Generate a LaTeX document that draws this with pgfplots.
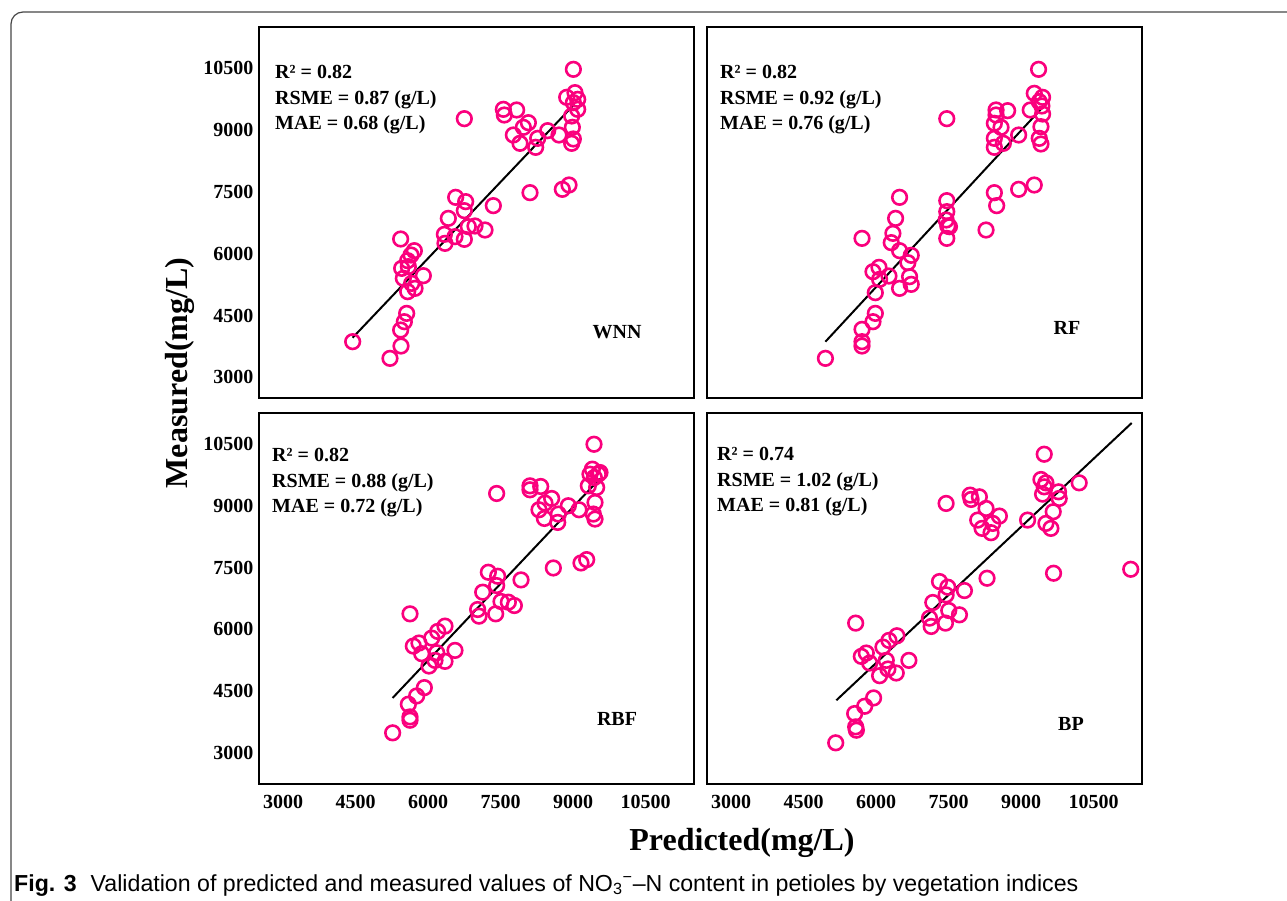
\documentclass[border=0pt]{standalone}
\usepackage{fontspec}
\usepackage{pgfplots}
\pgfplotsset{compat=1.18}
\setmainfont{Liberation Serif}
\newfontfamily\capfont{Liberation Sans}
\definecolor{pk}{RGB}{250,0,125}
\definecolor{framec}{RGB}{70,70,70}
\pgfplotsset{
  panel/.style={
    scale only axis, width=435pt, height=371pt,
    xmin=2500, xmax=11500,
    axis line style={line width=1.6pt},
    major tick length=0pt,
    scaled ticks=false,
    xtick={3000,4500,6000,7500,9000,10500},
    ytick={3000,4500,6000,7500,9000,10500},
    tick label style={font=\fontsize{20}{22}\selectfont\bfseries},
    /pgf/number format/assume math mode=true,
    /pgf/number format/1000 sep={},
    xticklabel style={yshift=-8pt},
    yticklabel style={xshift=-2pt},
    clip=false,
  },
  pts/.style={only marks, mark=o, mark size=7.3pt, color=pk, line width=2.6pt},
  fit/.style={black, line width=2pt, no marks},
}
\newcommand{\ann}{\fontsize{20}{22}\selectfont\bfseries}
\begin{document}
\begin{tikzpicture}
\useasboundingbox (0pt,0pt) rectangle (1287pt,900pt);
\begin{scope}
\clip (0pt,0pt) rectangle (1287pt,900pt);
\draw[framec, line width=1.2pt, rounded corners=12pt] (11pt,-20pt) -- (11pt,888pt) -- (1310pt,888pt);
\end{scope}

% WNN
\begin{axis}[panel, at={(259pt,502pt)}, anchor=south west, ymin=2500, ymax=11500, xticklabel=\empty]
\addplot[pts] coordinates {
(9004,10473)(9038,9907)(8866,9794)(9093,9745)(9004,9664)(9093,9503)(8969,9341)(8983,9066)(9004,8783)(8969,8678)
(7555,9503)(7831,9487)(7576,9365)(6748,9276)(8073,9179)(7969,9066)(8473,8985)(8707,8880)(8266,8799)(7762,8880)
(7900,8678)(8224,8581)(8914,7667)(8776,7562)(8107,7481)(6569,7368)(6776,7263)(7348,7166)(6748,7044)(6417,6858)
(6969,6672)(6831,6656)(7176,6575)(6335,6470)(6555,6414)(6748,6349)(6348,6252)(5431,6357)(5714,6074)(5645,5969)
(5576,5831)(5452,5645)(5590,5686)(5900,5467)(5486,5403)(5659,5281)(5728,5160)(5576,5079)(5555,4553)(5507,4351)
(5431,4149)(5438,3761)(4438,3866)(5210,3462)
};
\addplot[fit] coordinates {(4438,3963)(9024,9624)};
\end{axis}

% RF
\begin{axis}[panel, at={(707pt,502pt)}, anchor=south west, ymin=2500, ymax=11500, xticklabel=\empty, yticklabel=\empty]
\addplot[pts] coordinates {
(9360,10473)(9271,9891)(9443,9794)(9374,9689)(9188,9487)(9443,9389)(9409,9082)(9374,8799)(9409,8662)(9429,9584)
(8480,9487)(8720,9470)(8480,9365)(8445,9163)(8583,9066)(7461,9276)(8948,8880)(8445,8799)(8631,8678)(8445,8581)
(9271,7667)(8948,7562)(8445,7481)(8493,7166)(8273,6575)(6484,7368)(6402,6858)(7461,7287)(7461,7020)(7448,6818)
(7482,6672)(7461,6373)(7516,6656)(6346,6494)(6312,6268)(6484,6074)(6725,5961)(6656,5783)(5707,6373)(6058,5669)
(5934,5564)(6071,5378)(6264,5459)(6691,5443)(6484,5160)(6725,5257)(5982,5055)(5982,4553)(5934,4351)(5707,4165)
(5707,3866)(5707,3761)(4950,3462)
};
\addplot[fit] coordinates {(4950,3866)(9443,9551)};
\end{axis}

% RBF
\begin{axis}[panel, at={(259pt,116pt)}, anchor=south west, ymin=2250, ymax=11250]
\addplot[pts] coordinates {
(9431,10492)(9397,9887)(9555,9806)(9348,9766)(9438,9685)(9314,9483)(9486,9443)(9452,9080)(9417,8798)(9452,8677)
(9521,9766)(8107,9483)(8328,9467)(8107,9387)(7417,9298)(8555,9177)(8417,9064)(8900,9000)(8293,8903)(9121,8903)
(8404,8693)(8680,8596)(8693,8798)(9280,7693)(9162,7612)(8590,7491)(7245,7387)(7438,7290)(7921,7201)(7417,7064)
(7128,6903)(7507,6677)(7659,6661)(7783,6580)(7024,6483)(7052,6322)(7397,6378)(5624,6378)(6348,6080)(6197,5951)
(6073,5790)(5810,5669)(5693,5596)(6176,5435)(6555,5491)(5866,5411)(6017,5112)(6348,5225)(6141,5249)(5921,4588)
(5762,4386)(5590,4185)(5624,3878)(5624,3798)(5265,3491)
};
\addplot[fit] coordinates {(5265,4338)(9555,9661)};
\end{axis}

% BP
\begin{axis}[panel, at={(707pt,116pt)}, anchor=south west, ymin=2250, ymax=11250, yticklabel=\empty]
\addplot[pts] coordinates {
(9477,10250)(9409,9637)(9512,9556)(9477,9459)(9443,9282)(9773,9338)(9787,9177)(9663,8855)(9512,8572)(9615,8451)
(10200,9556)(7447,9056)(7943,9258)(8135,9217)(7964,9153)(8273,8935)(8549,8750)(8101,8653)(8411,8572)(8191,8451)
(8377,8346)(9133,8653)(11267,7459)(9670,7363)(8294,7242)(7310,7161)(7482,7024)(7826,6943)(7447,6838)(7172,6653)
(7502,6459)(7723,6354)(7103,6274)(7434,6153)(7138,6072)(5576,6153)(6429,5846)(6264,5733)(6140,5572)(5796,5427)
(5693,5346)(5865,5185)(6209,5249)(6677,5249)(6071,4878)(6415,4943)(6243,5040)(5947,4338)(5762,4136)(5555,3959)
(5576,3636)(5590,3556)(5163,3249)
};
\addplot[fit] coordinates {(5177,4282)(11287,11008)};
\end{axis}

% annotations
\foreach \xx/\ya/\yb/\yc/\r/\s/\m in {275/821/795/770/0.82/0.87/0.68, 720/821/795/770/0.82/0.92/0.76, 272/438/412/387/0.82/0.88/0.72, 717/439/413/388/0.74/1.02/0.81}{
  \node[anchor=base west, inner sep=0pt] at (\xx pt,\ya pt) {\ann R² = \r};
  \node[anchor=base west, inner sep=0pt] at (\xx pt,\yb pt) {\ann RSME = \s{} (g/L)};
  \node[anchor=base west, inner sep=0pt] at (\xx pt,\yc pt) {\ann MAE = \m{} (g/L)};
}
\node[anchor=base, inner sep=0pt] at (617pt,561pt) {\ann WNN};
\node[anchor=base, inner sep=0pt] at (1067pt,565pt) {\ann RF};
\node[anchor=base, inner sep=0pt] at (617pt,175pt) {\ann RBF};
\node[anchor=base, inner sep=0pt] at (1071pt,170pt) {\ann BP};

% axis titles
\node[rotate=90, inner sep=0pt] at (180pt,527pt) {\fontsize{32}{36}\selectfont\bfseries Measured(mg/L)};
\node[inner sep=0pt] at (742pt,57pt) {\fontsize{32}{36}\selectfont\bfseries Predicted(mg/L)};

% caption
\node[anchor=base west, inner sep=0pt] at (14pt,9pt) {\resizebox{1064pt}{!}{\capfont\fontsize{20}{24}\selectfont\textbf{Fig. 3}\hspace{0.6em}Validation of predicted and measured values of NO\textsubscript{3}\textsuperscript{−}–N content in petioles by vegetation indices}};
\end{tikzpicture}
\end{document}
